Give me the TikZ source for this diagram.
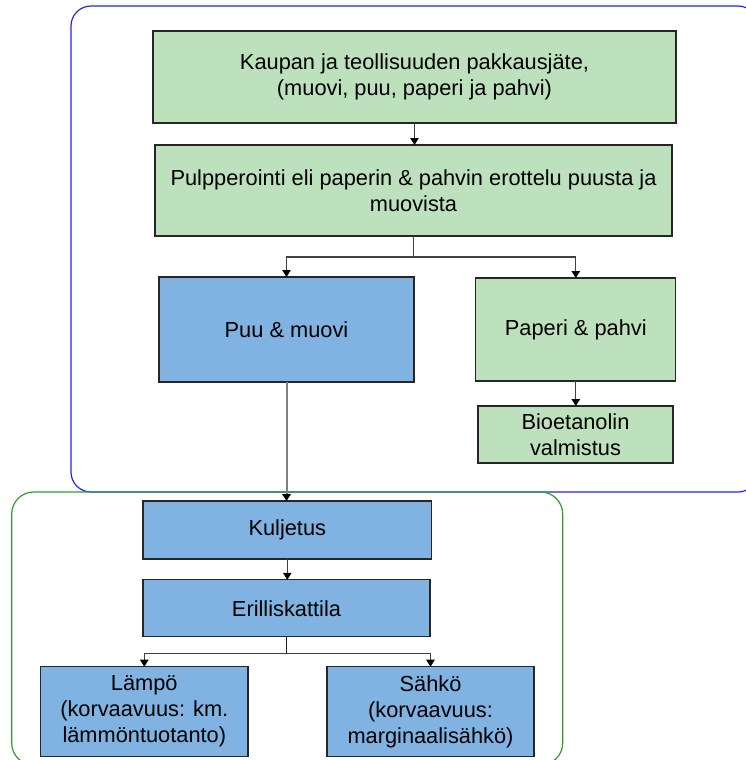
\documentclass[tikz,border=0pt]{standalone}
\usepackage{fontspec}
\setmainfont{Liberation Sans}
\usetikzlibrary{arrows.meta}
\definecolor{gfill}{HTML}{BEE1BD}
\definecolor{bfill}{HTML}{80B3E1}
\definecolor{frameblue}{HTML}{2424F2}
\definecolor{framegreen}{HTML}{2E9E2E}
\begin{document}
\begin{tikzpicture}[x=1pt,y=-1pt,
  box/.style={draw=black!85, line width=1.2pt, inner sep=0pt, outer sep=0pt, align=center,
    font=\fontsize{21.8}{26}\selectfont},
  gbox/.style={box, fill=gfill},
  bbox/.style={box, fill=bfill},
  conn/.style={draw=black!75, line width=1.1pt},
  arr/.style={conn, -{Triangle[length=7pt,width=8.5pt,color=black]}},
]
\useasboundingbox (0,0) rectangle (746,760);
% frames
\draw[frameblue, line width=1.2pt, rounded corners=20pt] (71,6) rectangle (758,492);
\draw[framegreen, line width=1.2pt, rounded corners=22pt] (11.7,492) rectangle (562.7,765);
% boxes
\node[gbox, minimum width=523pt, minimum height=92pt] (k1) at (414.5,77)
  {Kaupan ja teollisuuden pakkausjäte,\\(muovi, puu, paperi ja pahvi)};
\node[gbox, minimum width=517pt, minimum height=91pt] (k2) at (413.5,190.5)
  {Pulpperointi eli paperin \& pahvin erottelu puusta ja\\muovista};
\node[bbox, minimum width=255pt, minimum height=105pt] (puu) at (286.5,329.5) {Puu \& muovi};
\node[gbox, minimum width=200pt, minimum height=103pt] (pap) at (575.8,329.5) {Paperi \& pahvi};
\node[gbox, minimum width=195pt, minimum height=57pt] (bio) at (575.5,434.5) {Bioetanolin\\valmistus};
\node[bbox, minimum width=288.7pt, minimum height=58pt] (kul) at (287.3,530) {Kuljetus};
\node[bbox, minimum width=287pt, minimum height=57pt] (eri) at (286.5,608.3) {Erilliskattila};
\node[bbox, minimum width=207.3pt, minimum height=90pt] (lam) at (144.3,711.7)
  {Lämpö\\(korvaavuus: km.\\lämmöntuotanto)};
\node[bbox, minimum width=207pt, minimum height=90pt] (sah) at (430.5,711.7)
  {Sähkö\\(korvaavuus:\\marginaalisähkö)};
% connectors
\draw[arr] (k1.south) -- (k1.south |- k2.north);
\path (k2.south) ++(0,21) coordinate (s1);
\draw[conn] (k2.south) -- (s1);
\draw[arr] (s1) -| (puu.north);
\draw[arr] (s1) -| (pap.north);
\draw[arr] (pap.south) -- (pap.south |- bio.north);
\draw[arr, draw=gray, line width=2pt] (puu.south) -- (puu.south |- kul.north);
\draw[arr] (kul.south) -- (kul.south |- eri.north);
\path (eri.south) ++(0,16.3) coordinate (s2);
\draw[conn, line width=1.6pt, draw=black!90] (eri.south) -- (s2);
\draw[arr] (s2) -| (lam.north);
\draw[arr] (s2) -| (sah.north);
\end{tikzpicture}
\end{document}
